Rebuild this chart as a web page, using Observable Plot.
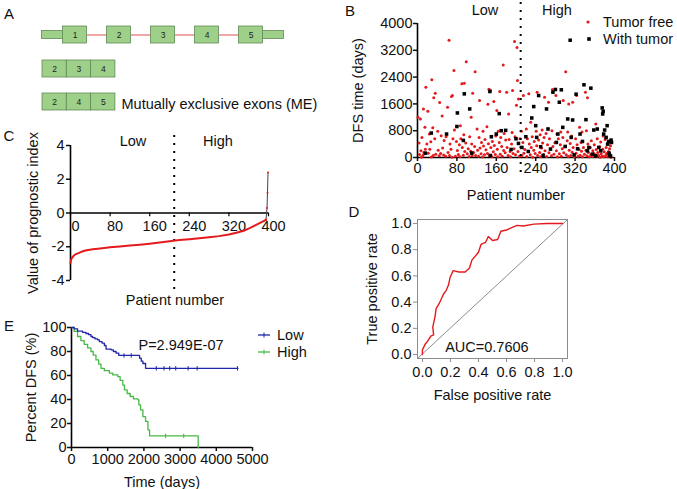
<!DOCTYPE html>
<html><head><meta charset="utf-8">
<script src="https://cdn.jsdelivr.net/npm/d3@7"></script>
<script src="https://cdn.jsdelivr.net/npm/@observablehq/plot@0.6"></script>
<style>
html,body{margin:0;padding:0;background:#fff;}
#fig{position:relative;width:677px;height:489px;overflow:hidden;font-family:"Liberation Sans",Arial,sans-serif;}
</style></head><body><div id="fig"></div>
<script>
// ---------------- DATA ----------------
// Panel A: exon structure
const geneExons = [1, 2, 3, 4, 5];
const isoformA = [2, 3, 4];
const isoformB = [2, 4, 5];
const isoformNote = "Mutually exclusive exons (ME)";

// Panel B: DFS time by patient (patient index, days)
const tumorFree = [
[1,1200],[3,430],[4,90],[6,1150],[7,200],[8,10],[9,600],[11,60],[12,1450],[13,150],[15,900],[16,250],[17,2100],[19,400],
[21,1380],[22,130],[24,700],[25,250],[27,470],[28,15],[29,2320],[31,890],[32,60],[33,1780],[35,560],[36,1920],[37,100],
[41,780],[42,220],[44,50],[45,1640],[47,120],[48,650],[50,1240],[51,280],[53,75],[54,510],[57,35],[58,620],
[61,1500],[62,150],[64,3500],[65,60],[66,400],[68,250],[69,1820],[70,10],[71,1850],[72,560],[74,2600],[75,820],[77,40],[79,480],
[81,210],[83,90],[85,380],[86,20],[87,950],[88,560],[90,2200],[91,300],[93,70],[94,680],[95,2220],[96,180],[98,430],[99,2860],
[101,110],[103,260],[105,30],[106,620],[108,190],[109,1200],[110,400],[111,50],[112,1920],[114,150],[116,330],[117,2560],[118,60],
[121,850],[122,220],[124,40],[125,600],[126,1700],[127,280],[129,110],[130,450],[132,15],[133,780],[134,340],[136,80],[137,540],[139,230],
[141,920],[142,120],[143,1590],[144,410],[145,2040],[146,60],[148,2010],[149,300],[151,20],[152,480],[154,170],[155,1670],[156,360],[158,90],[159,640],
[161,1400],[162,250],[163,20],[164,780],[166,450],[167,1970],[168,100],[169,600],[171,330],[172,40],[174,2760],[175,210],[176,720],[178,140],[179,520],
[181,1950],[182,300],[184,60],[185,1300],[186,540],[188,180],[189,20],[191,400],[192,750],[193,2000],[194,120],[196,260],[197,3460],[198,620],[199,80],
[201,1560],[202,3280],[203,2300],[204,180],[205,1750],[207,40],[208,560],[210,300],[211,780],[212,60],[214,450],[215,1850],[216,130],[218,240],
[221,850],[222,30],[223,560],[225,180],[226,1900],[227,400],[229,80],[230,1050],[231,300],[233,620],[234,10],[236,220],[237,480],[239,120],
[241,780],[242,350],[243,1950],[244,60],[246,520],[248,150],[249,680],[250,20],[252,280],[253,820],[254,430],[256,90],[257,600],[258,1800],[259,200],
[261,720],[262,30],[264,380],[265,860],[266,1650],[267,140],[268,560],[270,260],[272,50],[273,800],[274,2030],[275,330],[277,100],[279,440],
[281,1850],[282,200],[283,700],[284,20],[286,560],[288,110],[290,380],[291,760],[292,40],[294,260],[295,600],[296,1700],[297,140],[299,320],
[301,2560],[302,80],[304,500],[305,760],[306,30],[307,1600],[308,220],[310,420],[311,60],[313,640],[314,160],[315,1650],[316,300],[318,20],
[321,560],[322,130],[323,1850],[324,380],[326,40],[328,240],[329,900],[330,70],[332,450],[333,190],[334,760],[335,20],[337,300],[339,100],
[341,1950],[342,220],[343,800],[344,50],[345,1780],[346,400],[347,150],[349,20],[351,300],[352,90],[353,500],[355,30],[356,200],[358,120],[359,380],
[361,80],[362,1000],[363,240],[364,30],[365,560],[366,150],[368,60],[370,320],[371,10],[372,460],[373,110],[375,40],[376,250],[377,640],[378,20],[379,170],
[381,540],[382,60],[383,300],[384,120],[386,20],[387,420],[388,180],[389,40],[390,260],[391,90],[392,350],[393,10]
];
const withTumor = [
[16,130],[28,730],[59,700],[81,1330],[80,925],[95,1900],[93,510],[106,1450],[110,130],[147,1970],[148,60],[150,620],[160,700],[166,1310],[170,800],[179,810],
[190,240],[200,560],[205,420],[212,300],[220,620],[225,180],[232,1180],[236,1520],[240,950],[242,600],[246,1850],[250,320],[255,60],[262,1450],[265,850],
[270,250],[275,1950],[280,2030],[282,450],[285,700],[288,1650],[292,2020],[295,900],[300,330],[305,1150],[310,3500],[312,600],[315,1120],[318,80],[322,1890],
[325,260],[330,700],[335,480],[338,2170],[342,1130],[345,200],[348,300],[352,2070],[355,100],[358,820],[362,50],[365,850],[368,300],[372,200],[375,1480],
[376,1300],[377,1380],[378,700],[380,820],[383,600],[385,950],[386,400],[388,480],[389,130],[390,60],[392,40],[394,450],[393,520]
];
const patientTicks = [0, 80, 160, 240, 320, 400];
const dfsTicks = [0, 800, 1600, 2400, 3200, 4000];
const cutoffPatient = 209.5;
const groupNames = ["Low", "High"];
const statusNames = ["Tumor free", "With tumor"];

// Panel C: prognostic index sorted by patient
const piPatient = [0,1,3,6,10,16,22,30,45,60,80,100,120,140,160,180,200,220,240,260,280,300,320,335,350,362,372,382,390,395];
const piValue   = [-2.95,-2.8,-2.65,-2.55,-2.45,-2.38,-2.3,-2.22,-2.15,-2.1,-2.03,-1.98,-1.93,-1.88,-1.82,-1.75,-1.67,-1.6,-1.55,-1.5,-1.44,-1.37,-1.27,-1.17,-1.05,-0.9,-0.75,-0.6,-0.48,-0.4];
const piSpikePatient = [395, 397, 398, 399];
const piSpikeValue = [-0.4, 0.3, 1.2, 2.4];
const piTicks = [-4, -2, 0, 2, 4];

// Panel D: ROC curve
const rocFPR = [0,0.0,0.02,0.036,0.06,0.08,0.074,0.09,0.098,0.12,0.15,0.17,0.186,0.198,0.22,0.26,0.305,0.336,0.353,0.40,0.418,0.45,0.47,0.50,0.537,0.56,0.60,0.675,0.72,0.795,0.89,0.914,0.97,1.0];
const rocTPR = [0,0.036,0.08,0.10,0.14,0.15,0.21,0.29,0.35,0.39,0.46,0.49,0.53,0.59,0.64,0.63,0.63,0.66,0.72,0.78,0.84,0.855,0.90,0.87,0.877,0.94,0.95,0.985,0.98,0.995,1.0,1.0,1.0,1.0];
const rateTicks = [0, 0.2, 0.4, 0.6, 0.8, 1.0];
const aucText = "AUC=0.7606";

// Panel E: Kaplan-Meier DFS
const lowTime = [0,74,167,306,398,472,537,583,648,722,769,843,907,954,1093,1157,1232,1306,1880,1926,1972,2046,4600];
const lowSurv = [100,98.9,97,96,95,94,92.5,91.6,90.5,89.7,88.3,87,85,82,81.4,80,78.6,76.7,74.4,72,70,66,66];
const highTime = [0,74,167,260,350,445,537,600,676,750,815,907,1046,1140,1280,1343,1417,1463,1537,1620,1713,1833,1861,1907,1972,2046,2111,2157,3500];
const highSurv = [100,96.7,92.5,89,86,83,80,77,73,69.4,66,64,62,60.5,59,56,52,48,45,42.5,40.5,39.7,35.5,31.4,25.8,21.7,14.7,9.7,0];
const lowCensorTime = [1450, 1650, 2343, 2556, 2713, 2880, 3222, 3472, 4584];
const lowCensorSurv = [76.7, 76.7, 66, 66, 66, 66, 66, 66, 66];
const highCensorTime = [2600, 3100];
const highCensorSurv = [9.7, 9.7];
const timeTicks = [0, 1000, 2000, 3000, 4000, 5000];
const pctTicks = [0, 20, 40, 60, 80, 100];
const pText = "P=2.949E-07";

// ---------------- STYLE ----------------
const FONT = "Liberation Sans, Arial, sans-serif";
const FS = 14.5;
const RED = "#e41a1c", BLUE = "#1f24a8", GREEN = "#46b946";
const baseStyle = {fontFamily: FONT, fontSize: FS + "px", color: "#111", background: "transparent", overflow: "visible"};
const fig = document.getElementById("fig");
function place(el, left, top) { el.style.position = "absolute"; el.style.left = left + "px"; el.style.top = top + "px"; fig.appendChild(el); }
const fmtInt = d3.format("d");

// ---------------- PANEL A ----------------
(function () {
  const boxW = 24, boxH = 17, pitch = 44, x0 = 62.5, top1 = 26;
  const gene = geneExons.map((e, i) => ({label: e, x1: x0 + i * pitch, x2: x0 + i * pitch + boxW, y1: top1, y2: top1 + boxH}));
  const flankH = 8, fy = top1 + (boxH - flankH) / 2;
  const flanks = [
    {x1: gene[0].x1 - 21, x2: gene[0].x1, y1: fy, y2: fy + flankH},
    {x1: gene[gene.length - 1].x2, x2: gene[gene.length - 1].x2 + 21, y1: fy, y2: fy + flankH}
  ];
  const introns = gene.slice(1).map((g, i) => ({x1: gene[i].x2, x2: g.x1, y: top1 + boxH / 2}));
  const iso = (arr, top) => arr.map((e, j) => ({label: e, x1: 42 + j * 24.3, x2: 42 + (j + 1) * 24.3, y1: top, y2: top + boxH}));
  const rows = [...iso(isoformA, 60), ...iso(isoformB, 93)];
  const all = [...gene, ...rows];
  const p = Plot.plot({
    width: 340, height: 120, margin: 0,
    x: {domain: [0, 340], range: [0, 340], axis: null},
    y: {domain: [0, 120], range: [0, 120], axis: null},
    style: baseStyle,
    marks: [
      Plot.link(introns, {x1: "x1", x2: "x2", y1: "y", y2: "y", stroke: "#e35050", strokeWidth: 1}),
      Plot.rect(flanks, {x1: "x1", x2: "x2", y1: "y1", y2: "y2", fill: "#9fd08a", stroke: "#5f8a55", strokeWidth: 0.8}),
      Plot.rect(all, {x1: "x1", x2: "x2", y1: "y1", y2: "y2", fill: "#9fd08a", stroke: "#5f8a55", strokeWidth: 0.8}),
      Plot.text(all, {x: d => (d.x1 + d.x2) / 2, y: d => (d.y1 + d.y2) / 2, text: "label", fontSize: 8.5, fill: "#222"}),
      Plot.text([isoformNote], {x: 121, y: 103.5, text: d => d, textAnchor: "start", fontSize: FS, fill: "#111"})
    ]
  });
  place(p, 0, 0);
})();

// ---------------- PANEL B ----------------
(function () {
  const p = Plot.plot({
    width: 337, height: 200, marginLeft: 77, marginRight: 63, marginTop: 23, marginBottom: 43,
    x: {domain: [0, 400]}, y: {domain: [0, 4000]},
    style: baseStyle,
    marks: [
      Plot.axisX({ticks: patientTicks, tickFormat: fmtInt, tickSize: 4, tickPadding: 1, strokeWidth: 1.5, label: "Patient number", labelAnchor: "center", labelOffset: 42, labelArrow: "none"}),
      Plot.axisY({ticks: dfsTicks, tickFormat: fmtInt, tickSize: 4, tickPadding: 1, strokeWidth: 1.5, label: "DFS time (days)", labelAnchor: "center", labelOffset: 65, labelArrow: "none"}),
      Plot.ruleX([0], {y1: 0, y2: 4000, stroke: "#000", strokeWidth: 1.6}),
      Plot.ruleY([0], {x1: 0, x2: 400, stroke: "#000", strokeWidth: 1.6}),
      Plot.dot(tumorFree, {x: d => d[0], y: d => d[1], r: 1.5, fill: RED, stroke: null}),
      Plot.dot(withTumor, {x: d => d[0], y: d => d[1], r: 2, symbol: "square", fill: "#000", stroke: null}),
      Plot.ruleX([cutoffPatient], {stroke: "#000", strokeWidth: 2, strokeDasharray: "2 6", insetTop: -21, insetBottom: -20})
    ]
  });
  place(p, 340, 0);
})();

// ---------------- PANEL C ----------------
(function () {
  const pi = piPatient.map((x, i) => ({x, y: piValue[i]}));
  const spike = piSpikePatient.map((x, i) => ({x, y: piSpikeValue[i]}));
  const p = Plot.plot({
    width: 300, height: 195, marginLeft: 70, marginRight: 32, marginTop: 25, marginBottom: 35,
    x: {domain: [0, 400], axis: null}, y: {domain: [-4, 4]},
    style: baseStyle,
    marks: [
      Plot.axisY({ticks: piTicks, tickFormat: d => String(d), tickSize: 4, tickPadding: 2, strokeWidth: 1.5, label: "Value of prognostic index", labelAnchor: "center", labelOffset: 43, labelArrow: "none"}),
      Plot.ruleX([0], {y1: -4, y2: 4, stroke: "#000", strokeWidth: 1.6}),
      Plot.ruleY([0], {x1: 0, x2: 400, stroke: "#000", strokeWidth: 1.4}),
      Plot.ruleX(patientTicks, {y1: 0, y2: -0.22, stroke: "#000", strokeWidth: 1.2}),
      Plot.text(patientTicks, {x: d => d, y: 0, text: d => String(d), dx: 5, dy: 13, fontSize: FS, fill: "#111"}),
      Plot.ruleX([cutoffPatient], {stroke: "#000", strokeWidth: 2, strokeDasharray: "2 6", insetTop: -10, insetBottom: -10}),
      Plot.line(pi, {x: "x", y: "y", stroke: RED, strokeWidth: 2}),
      Plot.line(spike, {x: "x", y: "y", stroke: "#444", strokeWidth: 1}),
      Plot.dot(spike, {x: "x", y: "y", r: 1, fill: RED, stroke: null})
    ]
  });
  place(p, 0, 120);
})();

// ---------------- PANEL D ----------------
(function () {
  const roc = rocFPR.map((x, i) => ({x, y: rocTPR[i]}));
  const xd = [-0.035, 1.035], yd = [-0.03, 1.03];
  const p = Plot.plot({
    width: 240, height: 210, marginLeft: 77, marginRight: 13, marginTop: 19, marginBottom: 52,
    x: {domain: xd}, y: {domain: yd},
    style: baseStyle,
    marks: [
      Plot.frame({stroke: "#8c8c8c", strokeWidth: 1}),
      Plot.link([0], {x1: xd[0], y1: yd[0], x2: xd[1], y2: yd[1], stroke: "#8c8c8c", strokeWidth: 1}),
      Plot.axisX({ticks: rateTicks, tickFormat: d3.format(".1f"), tickSize: 4, tickPadding: 4, stroke: "#8c8c8c", label: "False positive rate", labelAnchor: "center", labelOffset: 41, labelArrow: "none"}),
      Plot.axisY({ticks: rateTicks, tickFormat: d3.format(".1f"), tickSize: 4, tickPadding: 2, stroke: "#8c8c8c", label: "True positive rate", labelAnchor: "center", labelOffset: 51, labelArrow: "none"}),
      Plot.line(roc, {x: "x", y: "y", stroke: RED, strokeWidth: 1.4}),
      Plot.text([aucText], {x: 0.46, y: 0.055, text: d => d, fontSize: FS, fill: "#111"})
    ]
  });
  place(p, 340, 200);
})();

// ---------------- PANEL E ----------------
(function () {
  const low = lowTime.map((t, i) => ({t, s: lowSurv[i]}));
  const high = highTime.map((t, i) => ({t, s: highSurv[i]}));
  const lowC = lowCensorTime.map((t, i) => ({t, s: lowCensorSurv[i]}));
  const highC = highCensorTime.map((t, i) => ({t, s: highCensorSurv[i]}));
  const vtick = {draw(ctx, size) { const r = Math.sqrt(size / Math.PI); ctx.moveTo(0, -r); ctx.lineTo(0, r); }};
  const p = Plot.plot({
    width: 340, height: 174, marginLeft: 71, marginRight: 88, marginTop: 12, marginBottom: 42,
    x: {domain: [0, 5000]}, y: {domain: [0, 100]},
    style: baseStyle,
    marks: [
      Plot.axisX({ticks: timeTicks, tickFormat: fmtInt, tickSize: 4, tickPadding: 2, strokeWidth: 1.5, label: "Time (days)", labelAnchor: "center", labelOffset: 39, labelArrow: "none"}),
      Plot.axisY({ticks: pctTicks, tickFormat: fmtInt, tickSize: 4, tickPadding: 1, strokeWidth: 1.5, label: "Percent DFS (%)", labelAnchor: "center", labelOffset: 46, labelArrow: "none"}),
      Plot.ruleX([0], {y1: 0, y2: 100, stroke: "#000", strokeWidth: 1.6}),
      Plot.ruleY([0], {x1: 0, x2: 5000, stroke: "#000", strokeWidth: 1.6}),
      Plot.line(high, {x: "t", y: "s", curve: "step-after", stroke: GREEN, strokeWidth: 1.3}),
      Plot.line(low, {x: "t", y: "s", curve: "step-after", stroke: BLUE, strokeWidth: 1.3}),
      Plot.dot(lowC, {x: "t", y: "s", symbol: vtick, r: 2.2, stroke: BLUE, fill: "none", strokeWidth: 1}),
      Plot.dot(highC, {x: "t", y: "s", symbol: vtick, r: 2.2, stroke: GREEN, fill: "none", strokeWidth: 1}),
      Plot.text([pText], {x: 1850, y: 85, text: d => d, textAnchor: "start", fontSize: FS, fill: "#111"})
    ]
  });
  place(p, 0, 315);
})();

// ---------------- OVERLAY: panel letters, group labels, legends ----------------
const ov = d3.select("#fig").append("svg").attr("width", 677).attr("height", 489)
  .style("position", "absolute").style("left", "0px").style("top", "0px")
  .style("font-family", FONT).style("pointer-events", "none");
function label(x, yc, s, anchor = "start", size = FS) {
  ov.append("text").attr("x", x).attr("y", yc + 0.36 * size).attr("text-anchor", anchor)
    .attr("font-size", size).attr("fill", "#111").text(s);
}
[["A", 9, 13.8], ["B", 350, 11], ["C", 9, 136], ["D", 354, 212], ["E", 9, 326]].forEach(([s, x, y]) => label(x, y, s, "middle", 15));
label(485, 10, groupNames[0], "middle");
label(557, 10, groupNames[1], "middle");
label(133, 141, groupNames[0], "middle");
label(218, 141, groupNames[1], "middle");
label(175, 300, "Patient number", "middle");
// legend B
ov.append("circle").attr("cx", 588).attr("cy", 22).attr("r", 1.6).attr("fill", RED);
label(603, 22, statusNames[0]);
ov.append("rect").attr("x", 587.2).attr("y", 37.2).attr("width", 3.6).attr("height", 3.6).attr("fill", "#000");
label(603, 39, statusNames[1]);
// legend E
[[BLUE, 335, groupNames[0]], [GREEN, 352, groupNames[1]]].forEach(([c, y, s]) => {
  ov.append("line").attr("x1", 258).attr("x2", 270).attr("y1", y).attr("y2", y).attr("stroke", c).attr("stroke-width", 1.3);
  ov.append("line").attr("x1", 264).attr("x2", 264).attr("y1", y - 2.5).attr("y2", y + 2.5).attr("stroke", c).attr("stroke-width", 1);
  label(277, y, s);
});
</script></body></html>
